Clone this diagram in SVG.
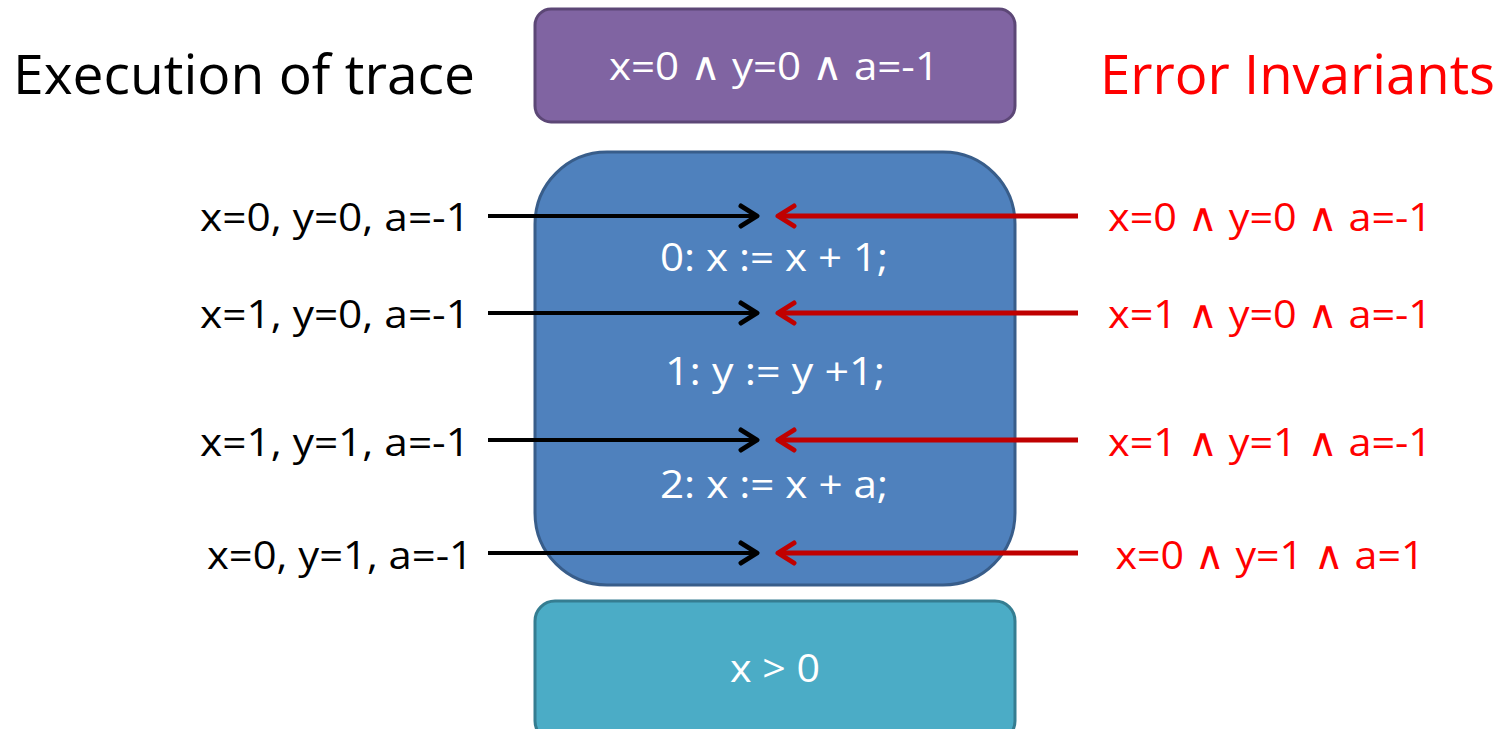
<svg xmlns="http://www.w3.org/2000/svg" width="1507" height="729" viewBox="0 0 1507 729">
<style>
text{font-family:"Open Sans","Noto Sans","DejaVu Sans",sans-serif}
.w{fill:#ffffff;font-size:39px;text-anchor:middle}
.k{fill:#000000;font-size:39px;text-anchor:end}
.r{fill:#ff0000;font-size:39px;text-anchor:middle}
.ttl{font-size:54px}
.and{font-family:"DejaVu Sans ExtraLight","DejaVu Sans Light","DejaVu Serif","DejaVu Sans",sans-serif;font-weight:200}
.ab{stroke:#000;stroke-width:4;fill:none}
.ar{stroke:#c00000;stroke-width:5;fill:none}
</style>
<defs>
<marker id="hb" viewBox="0 0 22 26" refX="19" refY="13" markerWidth="22" markerHeight="26" markerUnits="userSpaceOnUse" orient="auto">
<path d="M3,3 L19,13 L3,23" fill="none" stroke="#000" stroke-width="5" stroke-linecap="round" stroke-linejoin="round"/>
</marker>
<marker id="hr" viewBox="0 0 22 26" refX="19" refY="13" markerWidth="22" markerHeight="26" markerUnits="userSpaceOnUse" orient="auto">
<path d="M3,3 L19,13 L3,23" fill="none" stroke="#c00000" stroke-width="5" stroke-linecap="round" stroke-linejoin="round"/>
</marker>
</defs>
<rect width="1507" height="729" fill="#ffffff"/>
<text x="13" y="94" class="ttl" fill="#000" textLength="462" lengthAdjust="spacingAndGlyphs">Execution of trace</text>
<text x="1100" y="94" class="ttl" fill="#ff0000" textLength="395" lengthAdjust="spacingAndGlyphs">Error Invariants</text>
<g id="pre">
<rect x="535" y="9" width="480" height="113" rx="16" fill="#8064a2" stroke="#5c4776" stroke-width="3"/>
<text x="774" y="80" class="w" textLength="330" lengthAdjust="spacingAndGlyphs">x=0 <tspan class="and">∧</tspan> y=0 <tspan class="and">∧</tspan> a=-1</text>
</g>
<g id="prog">
<rect x="535" y="152" width="480" height="433" rx="72" fill="#4f81bd" stroke="#385d8a" stroke-width="3"/>
<text x="774" y="271" class="w" textLength="228" lengthAdjust="spacingAndGlyphs">0: x := x + 1;</text>
<text x="775" y="385" class="w" textLength="220" lengthAdjust="spacingAndGlyphs">1: y := y +1;</text>
<text x="774" y="498" class="w" textLength="228" lengthAdjust="spacingAndGlyphs">2: x := x + a;</text>
</g>
<g id="post">
<rect x="535" y="601" width="480" height="140" rx="20" fill="#4bacc6" stroke="#357d91" stroke-width="3"/>
<text x="775" y="682" class="w" textLength="90" lengthAdjust="spacingAndGlyphs">x &gt; 0</text>
</g>
<g id="trace">
<text x="470" y="231" class="k" textLength="270" lengthAdjust="spacingAndGlyphs">x=0, y=0, a=-1</text>
<text x="470" y="328" class="k" textLength="270" lengthAdjust="spacingAndGlyphs">x=1, y=0, a=-1</text>
<text x="470" y="456" class="k" textLength="270" lengthAdjust="spacingAndGlyphs">x=1, y=1, a=-1</text>
<text x="473" y="569" class="k" textLength="266" lengthAdjust="spacingAndGlyphs">x=0, y=1, a=-1</text>
</g>
<g id="invariants">
<text x="1270" y="231" class="r" textLength="324" lengthAdjust="spacingAndGlyphs">x=0 <tspan class="and">∧</tspan> y=0 <tspan class="and">∧</tspan> a=-1</text>
<text x="1270" y="328" class="r" textLength="324" lengthAdjust="spacingAndGlyphs">x=1 <tspan class="and">∧</tspan> y=0 <tspan class="and">∧</tspan> a=-1</text>
<text x="1270" y="456" class="r" textLength="324" lengthAdjust="spacingAndGlyphs">x=1 <tspan class="and">∧</tspan> y=1 <tspan class="and">∧</tspan> a=-1</text>
<text x="1270" y="569" class="r" textLength="309" lengthAdjust="spacingAndGlyphs">x=0 <tspan class="and">∧</tspan> y=1 <tspan class="and">∧</tspan> a=1</text>
</g>
<g id="connectors">
<line x1="488" y1="216" x2="757" y2="216" class="ab" marker-end="url(#hb)"/>
<line x1="488" y1="313" x2="757" y2="313" class="ab" marker-end="url(#hb)"/>
<line x1="488" y1="440" x2="757" y2="440" class="ab" marker-end="url(#hb)"/>
<line x1="488" y1="553" x2="757" y2="553" class="ab" marker-end="url(#hb)"/>
<line x1="1078" y1="216" x2="778" y2="216" class="ar" marker-end="url(#hr)"/>
<line x1="1078" y1="313" x2="778" y2="313" class="ar" marker-end="url(#hr)"/>
<line x1="1078" y1="440" x2="778" y2="440" class="ar" marker-end="url(#hr)"/>
<line x1="1078" y1="553" x2="778" y2="553" class="ar" marker-end="url(#hr)"/>
</g>
</svg>
